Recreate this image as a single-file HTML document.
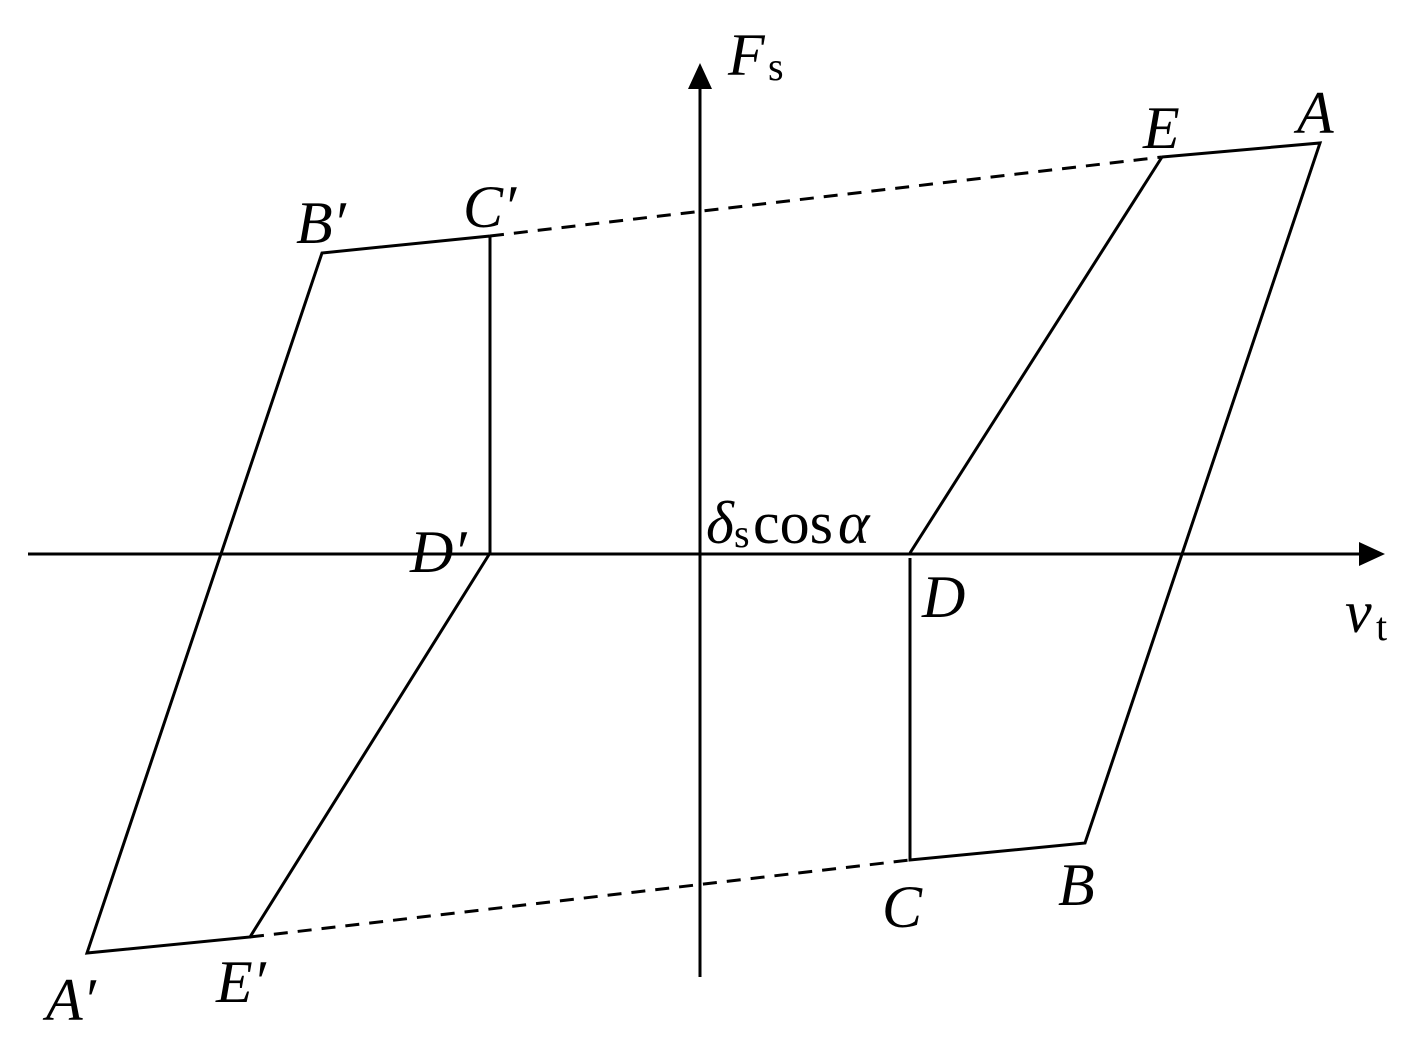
<!DOCTYPE html>
<html><head><style>
html,body{margin:0;padding:0;background:#fff;}
svg{display:block;}
text{font-family:"Liberation Serif",serif;fill:#000;}
.i{font-style:italic;}
</style></head><body>
<svg width="1415" height="1051" viewBox="0 0 1415 1051" xmlns="http://www.w3.org/2000/svg">
<g stroke="#000" stroke-width="3" fill="none">
<line x1="28" y1="554" x2="1365" y2="554"/>
<line x1="700" y1="977" x2="700" y2="85"/>
<polyline points="1162,157 1320,143 1085,843 910,860 910,558"/>
<line x1="910" y1="553" x2="1162" y2="157"/>
<polyline points="490,236 322,253 87,953 250,937 490,553 490,236"/>
<line x1="490" y1="236" x2="1162" y2="157" stroke-dasharray="14,10"/>
<line x1="250" y1="937" x2="910" y2="860" stroke-dasharray="14,10"/>
</g>
<polygon points="700,63 688,89 712,89" fill="#000"/>
<polygon points="1385,554 1359,542 1359,566" fill="#000"/>
<g font-size="60">
<text x="728" y="75" class="i">F</text><text x="768" y="80" font-size="40">s</text>
<text x="1143" y="148" class="i">E</text>
<text x="1297" y="133" class="i">A</text>
<text x="296" y="243" class="i">B′</text>
<text x="463" y="227" class="i">C′</text>
<text x="410" y="572" class="i">D′</text>
<text x="706" y="543" class="i">δ</text><text x="734" y="547" font-size="40">s</text><text x="753" y="543">cos</text><text x="838" y="543" class="i">α</text>
<text x="922" y="617" class="i">D</text>
<text x="1345" y="632" class="i">v</text><text x="1376" y="640" font-size="40">t</text>
<text x="882" y="927" class="i">C</text>
<text x="1058" y="905" class="i">B</text>
<text x="46" y="1020" class="i">A′</text>
<text x="216" y="1002" class="i">E′</text>
</g>
</svg>
</body></html>
